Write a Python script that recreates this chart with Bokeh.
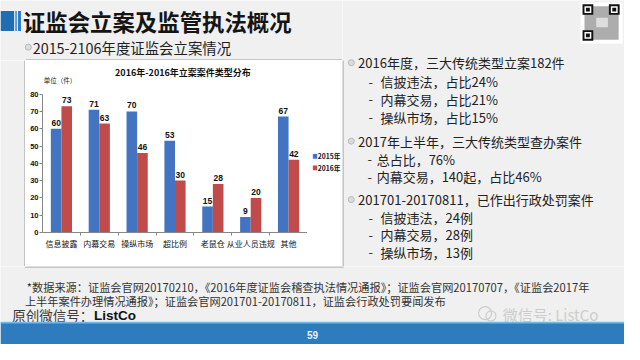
from bokeh.plotting import figure
from bokeh.layouts import column, row
from bokeh.models import (ColumnDataSource, FactorRange, Range1d, FixedTicker, LinearAxis,
                          CategoricalAxis)
from bokeh.transform import dodge
from bokeh.embed import file_html
from bokeh.resources import INLINE
from bokeh.core.properties import value

# ---------------- data ----------------
categories = ["信息披露", "内幕交易", "操纵市场", "超比例", "老鼠仓", "从业人员违规", "其他"]
cases_2015 = [60, 71, 70, 53, 15, 9, 67]
cases_2016 = [73, 63, 46, 30, 28, 20, 42]
series_names = ["2015年", "2016年"]
y_ticks = [0, 10, 20, 30, 40, 50, 60, 70, 80]

# ---------------- page geometry (reference pixels -> canvas pixels) ----------------
W, H = 624, 344
KX, KY = W / 640.0, H / 360.0
BX0, BX1, BY0, BY1 = 26, 351, 63, 278        # white chart box in the reference
FL, FR, FT, FB = 43, 315, 98, 242            # chart plot area in the reference
XL, XF, XR = round(BX0 * KX), round(FR * KX), round(BX1 * KX)
YT, YB = round(BY0 * KY), round(BY1 * KY)
PX_PER_UNIT = (FB - FT) / 80.0               # reference pixels per case

CJK = "Noto Sans CJK SC"
NUM = "Liberation Sans"
BG = "#f0f0f0"
BLUE = "#4374c2"
RED = "#c04b4b"
AXIS = "#868686"
BORDER = "#9c9c9c"


def aux(width, height, xr, yr, bg=BG):
    f = figure(width=width, height=height, x_range=Range1d(*xr), y_range=Range1d(*yr),
               output_backend="svg", toolbar_location=None, title=None,
               x_axis_location=None, y_axis_location=None, min_border=0,
               frame_align=False)
    f.outline_line_color = None
    f.background_fill_color = bg
    f.border_fill_color = bg
    f.grid.visible = False
    return f


def txt(f, x, y, s, size, color="#222222", font=CJK, style="normal", align="left"):
    f.text(x=[x], y=[y], text=[s], text_font=value(font), text_font_size=f"{size}px",
           text_font_style=style, text_color=color, text_align=align, text_baseline="middle")


def rect(f, x0, y0, x1, y1, color, alpha=1.0):
    f.quad(left=[x0], right=[x1], top=[y0], bottom=[y1], fill_color=color,
           fill_alpha=alpha, line_color=None)


# ---------------- header (left part) ----------------
head = aux(XR, YT, (0, BX1), (BY0, 0))
rect(head, 0, 11, 14, 32, "#1f6db5")
rect(head, 15, 11, 17, 32, "#5aa0d8")
rect(head, 18, 11, 21, 32, "#2b7bc2")
txt(head, 23, 21.5, "证监会立案及监管执法概况", 22.4, color="#151515", style="bold")
head.scatter([28.5], [49], size=6, marker="circle", fill_color="#dcdcdc", line_color="#b8b8b8")
txt(head, 33, 49, "2015-2106年度证监会立案情况", 14.4, color="#1e1e1e")
rect(head, BX0, BY0 - 1.05, BX1 + 1, BY0, BORDER)      # top edge of the chart box

# ---------------- left strip ----------------
left = aux(XL, YB - YT, (0, BX0), (BY1, BY0))
rect(left, BX0 - 1.05, BY0, BX0, BY1, BORDER)

# ---------------- chart ----------------
y_top = 80 + (FT - BY0) / PX_PER_UNIT        # frame reaches the top of the white box
p = figure(width=XF - XL, height=YB - YT,
           x_range=FactorRange(*categories), y_range=Range1d(0, y_top),
           output_backend="svg", toolbar_location=None, title=None,
           x_axis_location=None, y_axis_location=None, frame_align=False,
           min_border_left=round((FL - BX0) * KX), min_border_right=0,
           min_border_top=0, min_border_bottom=round((BY1 - FB) * KY))
p.background_fill_color = "white"
p.border_fill_color = "white"
p.outline_line_color = None
p.grid.visible = False

src = ColumnDataSource(dict(
    cat=categories,
    v15=cases_2015, v16=cases_2016,
    t15=[str(v) for v in cases_2015], t16=[str(v) for v in cases_2016],
))
r15 = p.vbar(x=dodge("cat", -0.14, range=p.x_range), top="v15", width=0.28, source=src,
             fill_color=BLUE, line_color=None)
r16 = p.vbar(x=dodge("cat", 0.14, range=p.x_range), top="v16", width=0.28, source=src,
             fill_color=RED, line_color=None)
for off, vcol, tcol in [(-0.14, "v15", "t15"), (0.14, "v16", "t16")]:
    p.text(x=dodge("cat", off, range=p.x_range), y=vcol, text=tcol, source=src,
           text_align="center", text_baseline="bottom", y_offset=-3,
           text_font=value(NUM), text_font_size="8.5px", text_font_style="bold",
           text_color="#111111")

# chart title and unit note, placed in the headroom above 80
title_src = ColumnDataSource(dict(c=[categories[3]], y=[(FB - 75) / PX_PER_UNIT],
                                  t=["2016年-2016年立案案件类型分布"]))
p.text(x=dodge("c", 0.21, range=p.x_range), y="y", text="t", source=title_src,
       text_align="center", text_baseline="middle", text_font=value(CJK),
       text_font_size="9px", text_font_style="bold", text_color="#111111")
unit_src = ColumnDataSource(dict(c=[categories[0]], y=[(FB - 83) / PX_PER_UNIT], t=["单位（件）"]))
p.text(x=dodge("c", -0.47, range=p.x_range), y="y", text="t", source=unit_src,
       text_align="left", text_baseline="middle", text_font=value(CJK),
       text_font_size="6.5px", text_color="#222222")

yax = LinearAxis(ticker=FixedTicker(ticks=y_ticks), bounds=(0, 80),
                 major_tick_out=3, major_tick_in=0,
                 minor_tick_out=0, minor_tick_in=0, axis_line_color=AXIS,
                 major_tick_line_color=AXIS, major_label_standoff=1,
                 major_label_text_font=NUM, major_label_text_font_size="7.5px",
                 major_label_text_font_style="bold", major_label_text_color="#111111")
p.add_layout(yax, "left")

# tick marks on the category boundaries: a factor range whose centres sit on the boundaries
bounds = [f"b{i}" for i in range(len(categories) + 1)]
p.extra_x_ranges = {"bounds": FactorRange(*bounds, range_padding=-1.0 / len(bounds),
                                          range_padding_units="percent")}
bax = CategoricalAxis(x_range_name="bounds", major_tick_out=3, major_tick_in=0,
                      axis_line_color=AXIS, major_tick_line_color=AXIS,
                      major_label_text_font_size="1px", major_label_text_alpha=0,
                      major_label_standoff=0)
p.add_layout(bax, "below")
cax = CategoricalAxis(axis_line_color=None, major_tick_line_color=None,
                      major_tick_out=0, major_tick_in=0, major_label_standoff=2,
                      major_label_text_font=CJK, major_label_text_font_size="8px",
                      major_label_text_color="#111111")
p.add_layout(cax, "below")

# ---------------- legend strip (right part of the white box) ----------------
leg = aux(XR - XF, YB - YT, (FR, BX1), (BY1, BY0), bg="white")
for name, colr, ly in [(series_names[0], BLUE, 163), (series_names[1], RED, 175)]:
    rect(leg, 320.5, ly - 2.5, 325, ly + 2.5, colr)
    txt(leg, 325.5, ly, name, 6.8, color="#111111", style="bold")

# ---------------- right column (QR code + bullet text) ----------------
rt = aux(W - XR, YB, (BX1, 640), (BY1, 0))
rect(rt, BX1, BY0, BX1 + 1.05, BY1, BORDER)
rect(rt, 595, 2, 638, 45, "white")
rect(rt, 599, 6, 634, 41, "#6a6a6a", 0.55)
for qx, qy in [(597, 4), (624, 4), (597, 31)]:
    rect(rt, qx, qy, qx + 11, qy + 11, "#111111")
    rect(rt, qx + 2, qy + 2, qx + 9, qy + 9, "white")
    rect(rt, qx + 3.5, qy + 3.5, qx + 7.5, qy + 7.5, "#111111")
rect(rt, 611, 18, 623, 28, "#dddddd")
right_lines = [
    (360, 367, 65, None, "2016年度，三大传统类型立案182件"),
    (None, 390, 85, 380, "信披违法，占比24%"),
    (None, 390, 103, 380, "内幕交易，占比21%"),
    (None, 390, 122, 380, "操纵市场，占比15%"),
    (360, 367, 147, None, "2017年上半年，三大传统类型查办案件"),
    (None, 386, 166, 379, "总占比，76%"),
    (None, 386, 184, 379, "内幕交易，140起，占比46%"),
    (360, 367, 208, None, "201701-20170811，已作出行政处罚案件"),
    (None, 390, 227, 380, "信披违法，24例"),
    (None, 390, 245, 380, "内幕交易，28例"),
    (None, 390, 263, 380, "操纵市场，13例"),
]
for bx, tx, ty, dx, s in right_lines:
    if bx is not None:
        rt.scatter([bx], [ty], size=6, marker="circle", fill_color="#dcdcdc", line_color="#b8b8b8")
    if dx is not None:
        txt(rt, dx, ty, "-", 13, color="#333333", align="center")
    txt(rt, tx, ty, s, 13, color="#222222")

# ---------------- footer ----------------
foot = aux(W, H - YB, (0, 640), (360, BY1))
rect(foot, BX0 - 1, BY1, BX1 + 1, BY1 + 1.05, BORDER)   # bottom edge of the chart box
txt(foot, 27, 300, "*数据来源：证监会官网20170210，《2016年度证监会稽查执法情况通报》；证监会官网20170707，《证监会2017年",
    11.2, color="#333333")
txt(foot, 25, 314, "上半年案件办理情况通报》；证监会官网201701-20170811，证监会行政处罚要闻发布",
    11.2, color="#333333")
txt(foot, 12, 329, "原创微信号：", 13.5, color="#3a3a3a")
txt(foot, 96, 329, "ListCo", 13.5, color="#111111", font=NUM, style="bold")
foot.scatter([497, 503], [327, 330], size=[13, 10], marker="circle", fill_alpha=0,
             line_color="#cdcdcd", line_width=1.2)
txt(foot, 515, 328, "微信号: ListCo", 15, color="#cdcdcd")
rect(foot, 0, 337, 640, 360, "#2e7bbd")
rect(foot, 0, 336, 640, 338, "#73b8e6")
txt(foot, 320, 349.5, "59", 10, color="#e9f1f8", font=NUM, style="bold", align="center")

left_block = column(head, row(left, p, leg, spacing=0), spacing=0)
layout = column(row(left_block, rt, spacing=0), foot, spacing=0)
open("out.html", "w").write(file_html(layout, INLINE))
